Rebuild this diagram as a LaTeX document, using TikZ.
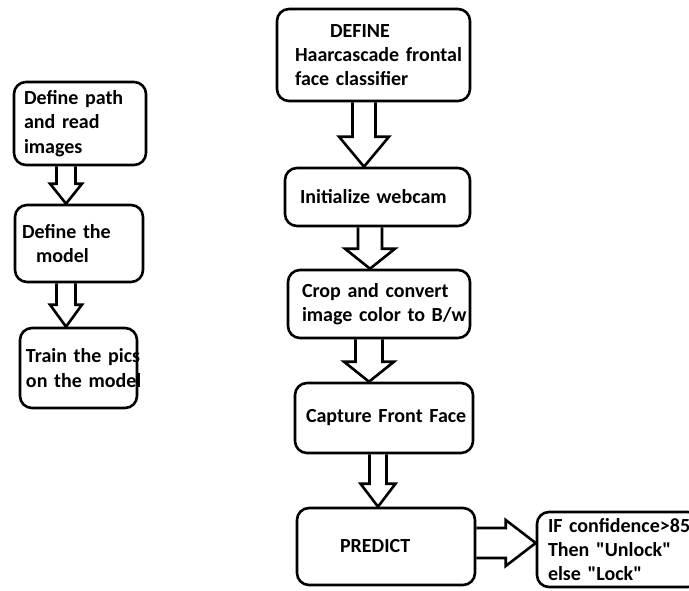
\documentclass[tikz,border=0pt]{standalone}
\usepackage{fontspec}
\setmainfont{Carlito}[Ligatures=TeXOff]
\usetikzlibrary{calc}

% hollow block arrows: from, to, x, shaft half, head half, head length
\newcommand{\blockdown}[6]{%
  \draw[arr] let \p1=(#1.south), \p2=(#2.north) in
    (#3-#4,\y1) -- (#3-#4,\y2+#6pt) -- (#3-#5,\y2+#6pt) -- (#3,\y2)
    -- (#3+#5,\y2+#6pt) -- (#3+#4,\y2+#6pt) -- (#3+#4,\y1);}
\newcommand{\blockright}[6]{%
  \draw[arr] let \p1=(#1.east), \p2=(#2.west) in
    (\x1,#3-#4) -- (\x2-#6pt,#3-#4) -- (\x2-#6pt,#3-#5) -- (\x2,#3)
    -- (\x2-#6pt,#3+#5) -- (\x2-#6pt,#3+#4) -- (\x1,#3+#4);}

\begin{document}
\begin{tikzpicture}[
  x=1pt, y=-1pt,
  box/.style={rectangle, draw, line width=2.6pt, rounded corners=12pt,
              align=left, font=\bfseries\fontsize{20}{24.4}\selectfont,
              inner ysep=0pt},
  arr/.style={draw, line width=2.6pt, line join=miter}
]
\clip (0,0) rectangle (689,590);

% left column
\node[box, minimum width=132pt, minimum height=83pt, inner xsep=10pt,
      text width=112pt] (path) at (80,123.5) {Define path\\and read\\images};
\node[box, minimum width=128pt, minimum height=77pt, inner xsep=7pt,
      text width=114pt] (model) at (79,243.5) {Define the\\\hspace*{14pt}model};
\node[box, minimum width=117pt, minimum height=80pt, inner xsep=6pt,
      text width=105pt] (train) at (78.5,368) {\mbox{Train the pics}\\\mbox{on the model}};

% right column
\node[box, minimum width=193pt, minimum height=92pt, inner xsep=18pt,
      text width=157pt] (haar) at (373.5,55) {\hspace*{35pt}DEFINE\\\mbox{Haarcascade frontal}\\face classifier};
\node[box, minimum width=185pt, minimum height=58pt, inner xsep=15pt,
      text width=155pt] (cam) at (377.5,197) {Initialize webcam};
\node[box, minimum width=182pt, minimum height=68pt, inner xsep=14pt,
      text width=154pt] (crop) at (379,304) {Crop and convert\\\mbox{image color to B/w}};
\node[box, minimum width=178pt, minimum height=70pt, inner xsep=11pt,
      text width=156pt] (face) at (384,418) {\mbox{Capture Front Face}};
\node[box, minimum width=178pt, minimum height=77pt, inner xsep=11pt,
      text width=156pt] (pred) at (386,546.5) {\hspace*{32pt}PREDICT};
\node[box, minimum width=163pt, minimum height=75pt, inner xsep=11pt,
      text width=141pt] (result) at (618.5,549.5)
  {\mbox{IF confidence>85}\\\mbox{Then "Unlock"}\\\mbox{else "Lock"}};

\blockdown{path}{model}{66}{9.5}{16}{20}
\blockdown{model}{train}{66}{9.5}{16}{22}
\blockdown{haar}{cam}{364}{11.5}{25}{30}
\blockdown{cam}{crop}{370}{12}{25}{20}
\blockdown{crop}{face}{369}{13.5}{25}{20}
\blockdown{face}{pred}{378}{8.5}{17.5}{23}
\blockright{pred}{result}{543}{15}{23}{30}
\end{tikzpicture}
\end{document}
